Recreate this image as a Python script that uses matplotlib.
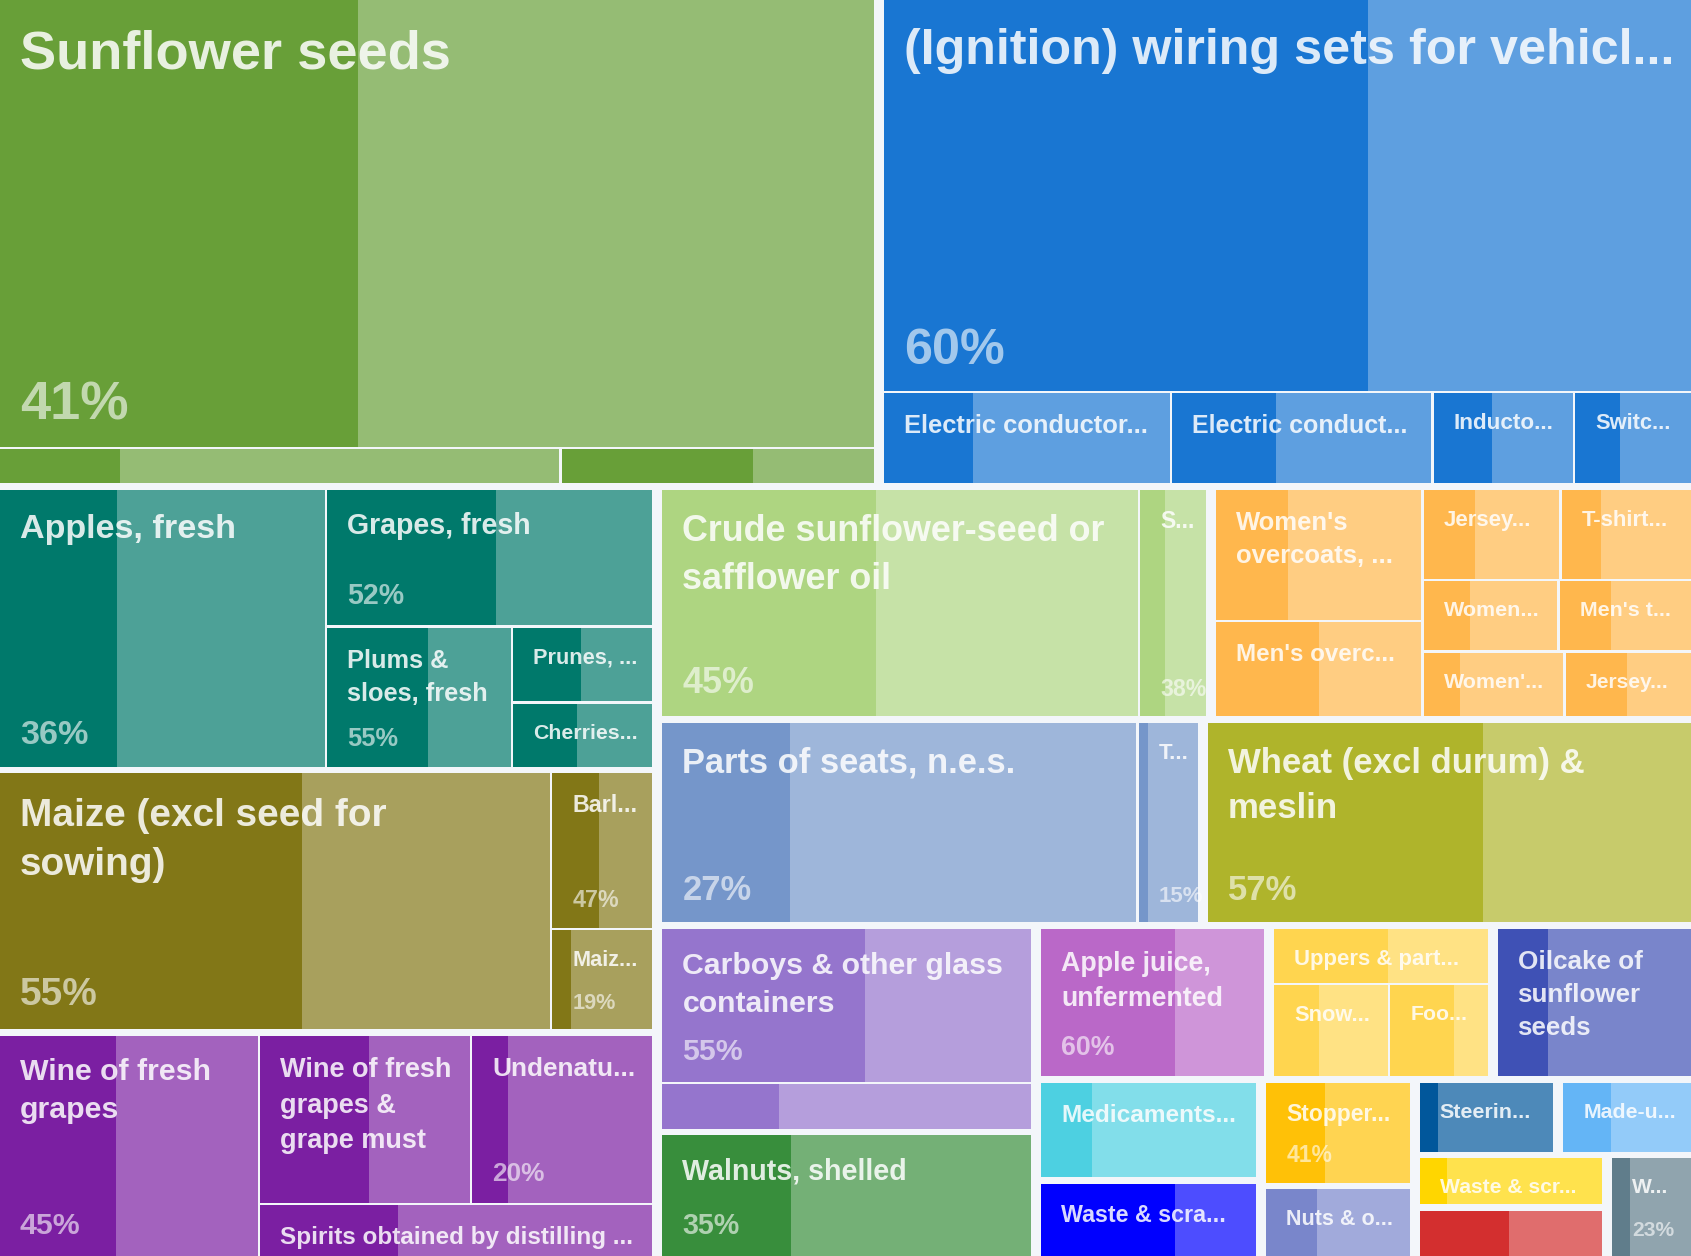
import math

import matplotlib
matplotlib.use("Agg")
import matplotlib.pyplot as plt
from matplotlib.patches import Rectangle
from matplotlib.colors import to_rgb

W, H, DPI = 1691, 1256, 100
BG = "#F3F6FA"
SQUEEZE = 2.0          # rows are chosen in a horizontally squeezed space
SECTION_GAP = (5.0, 3.3)
ITEM_GAP = (1.2, 1.2)

# --- data -------------------------------------------------------------------
# top-level sections (one colour each), in layout order
sections = ["Sunflower seeds", "Wiring sets", "Fruit", "Cereals", "Beverages",
            "Vegetable oils", "Apparel", "Seats", "Wheat", "Glassware", "Walnuts",
            "Apple juice", "Footwear parts", "Oilcake", "Medicaments", "Waste (blue)",
            "Stoppers", "Nuts", "Steering", "Made-up articles", "Waste (yellow)",
            "Other (red)", "Other (grey)"]
section_colors = ["#689F38", "#1976D2", "#00796B", "#827717", "#7B1FA2",
                  "#AED581", "#FFB74D", "#7596CA", "#AFB42B", "#9575CD", "#388E3C",
                  "#BA68C8", "#FFD54F", "#3F51B5", "#4DD0E1", "#0000FF",
                  "#FFC107", "#7986CB", "#01579B", "#64B5F6", "#FFD600",
                  "#D32F2F", "#607D8B"]

product_section = [0, 0, 0,
                   1, 1, 1, 1, 1,
                   2, 2, 2, 2, 2,
                   3, 3, 3,
                   4, 4, 4, 4,
                   5, 5,
                   6, 6, 6, 6, 6, 6, 6, 6,
                   7, 7,
                   8,
                   9, 9,
                   10, 11,
                   12, 12, 12,
                   13, 14, 15, 16, 17, 18, 19, 20, 21, 22]

product_labels = [
    "Sunflower seeds", "", "",
    "(Ignition) wiring sets for vehicl...", "Electric conductor...",
    "Electric conduct...", "Inducto...", "Switc...",
    "Apples, fresh", "Grapes, fresh", "Plums &\nsloes, fresh", "Prunes, ...", "Cherries...",
    "Maize (excl seed for\nsowing)", "Barl...", "Maiz...",
    "Wine of fresh\ngrapes", "Wine of fresh\ngrapes &\ngrape must", "Undenatu...",
    "Spirits obtained by distilling ...",
    "Crude sunflower-seed or\nsafflower oil", "S...",
    "Women's\novercoats, ...", "Men's overc...", "Jersey...", "T-shirt...",
    "Women...", "Men's t...", "Women'...", "Jersey...",
    "Parts of seats, n.e.s.", "T...",
    "Wheat (excl durum) &\nmeslin",
    "Carboys & other glass\ncontainers", "",
    "Walnuts, shelled",
    "Apple juice,\nunfermented",
    "Uppers & part...", "Snow...", "Foo...",
    "Oilcake of\nsunflower\nseeds",
    "Medicaments...",
    "Waste & scra...",
    "Stopper...",
    "Nuts & o...",
    "Steerin...",
    "Made-u...",
    "Waste & scr...",
    "",
    "W...",
]

product_values = [39629, 2012, 1125,
                  32038, 2667, 2429, 1314, 1088,
                  9309, 4602, 2692, 1101, 933,
                  14552, 1631, 1048,
                  5841, 3650, 3121, 2095,
                  11314, 1589,
                  2809, 2058, 1291, 1218, 1015, 990, 957, 854,
                  9969, 1273,
                  10051,
                  6012, 1792,
                  4698, 3586,
                  1279, 1160, 992,
                  3051, 2272, 1706, 1634, 1074, 1083, 1003, 1004, 935, 850]

# share of the darker part of each tile
product_shares = [0.41, 0.215, 0.614,
                  0.60, 0.313, 0.40, 0.417, 0.385,
                  0.36, 0.52, 0.55, 0.487, 0.459,
                  0.55, 0.47, 0.19,
                  0.45, 0.52, 0.20, 0.351,
                  0.45, 0.38,
                  0.35, 0.50, 0.38, 0.30, 0.35, 0.39, 0.26, 0.49,
                  0.27, 0.15,
                  0.57,
                  0.55, 0.316,
                  0.35, 0.60,
                  0.535, 0.39, 0.658,
                  0.26, 0.235, 0.62, 0.41, 0.352, 0.14, 0.377, 0.148, 0.489, 0.23]

show_share = [1, 0, 0,
              1, 0, 0, 0, 0,
              1, 1, 1, 0, 0,
              1, 1, 1,
              1, 0, 1, 0,
              1, 1,
              0, 0, 0, 0, 0, 0, 0, 0,
              1, 1,
              1,
              1, 0,
              1, 1,
              0, 0, 0,
              0, 0, 0, 1, 0, 0, 0, 0, 0, 1]


# --- layout -----------------------------------------------------------------
def worst(row, side):
    s = sum(row)
    return max(max(side * side * a / (s * s), s * s / (side * side * a)) for a in row)


def squarify(values, x, y, w, h):
    scale = w * h / sum(values) / SQUEEZE
    areas = [v * scale for v in values]
    lx, ly, lw, lh = x / SQUEEZE, y, w / SQUEEZE, h
    rects = []
    i = 0
    while i < len(areas):
        side = min(lw, lh)
        row = [areas[i]]
        j = i + 1
        while j < len(areas) and worst(row + [areas[j]], side) <= worst(row, side):
            row.append(areas[j])
            j += 1
        s = sum(row)
        if lw <= lh:
            t = lh if j == len(areas) else s / lw
            cx = lx
            for a in row:
                rects.append((cx * SQUEEZE, ly, a / t * SQUEEZE, t))
                cx += a / t
            ly += t
            lh -= t
        else:
            t = lw if j == len(areas) else s / lh
            cy = ly
            for a in row:
                rects.append((lx * SQUEEZE, cy, t * SQUEEZE, a / t))
                cy += a / t
            lx += t
            lw -= t
        i = j
    return rects


def inset(rect, outer, gap):
    x, y, w, h = rect
    ox, oy, ow, oh = outer
    dx, dy = gap
    left = dx if x > ox + 0.5 else 0
    right = dx if x + w < ox + ow - 0.5 else 0
    top = dy if y > oy + 0.5 else 0
    bottom = dy if y + h < oy + oh - 0.5 else 0
    return (x + left, y + top, w - left - right, h - top - bottom)


def lighten(color, amount=0.3):
    r, g, b = to_rgb(color)
    return (r + (1 - r) * amount, g + (1 - g) * amount, b + (1 - b) * amount)


# --- drawing ----------------------------------------------------------------
fig = plt.figure(figsize=(W / DPI, H / DPI), dpi=DPI)
fig.patch.set_facecolor(BG)
ax = fig.add_axes([0, 0, 1, 1])
ax.set_xlim(0, W)
ax.set_ylim(H, 0)
ax.axis("off")

FONT = ["Liberation Sans", "DejaVu Sans"]
container = (0, 0, W, H)
section_totals = [sum(v for v, s in zip(product_values, product_section) if s == k)
                  for k in range(len(sections))]
section_rects = squarify(section_totals, *container)

for k, srect in enumerate(section_rects):
    box = inset(srect, container, SECTION_GAP)
    idx = [i for i, s in enumerate(product_section) if s == k]
    dark = section_colors[k]
    light = lighten(dark)
    for i, rect in zip(idx, squarify([product_values[i] for i in idx], *box)):
        x, y, w, h = inset(rect, box, ITEM_GAP)
        tile = Rectangle((x, y), w, h, facecolor=light, edgecolor="none")
        ax.add_patch(tile)
        ax.add_patch(Rectangle((x, y), w * product_shares[i], h,
                               facecolor=dark, edgecolor="none"))

        size_px = 15.5 + 0.062 * math.sqrt(w * h)
        size_pt = size_px * 72 / DPI
        if product_labels[i]:
            t = ax.text(x + 20, y + 14 + 0.28 * size_px, product_labels[i],
                        ha="left", va="top", color="white", alpha=0.85,
                        fontsize=size_pt, fontweight="bold", family=FONT,
                        linespacing=1.47)
            t.set_clip_path(tile)
        if show_share[i]:
            t = ax.text(x + 20, y + h - (16 + 0.2 * size_px),
                        f"{round(product_shares[i] * 100)}%",
                        ha="left", va="baseline", color="white", alpha=0.6,
                        fontsize=size_pt, fontweight="bold", family=FONT)
            t.set_clip_path(tile)

fig.savefig("out.png", dpi=DPI, facecolor=BG)
